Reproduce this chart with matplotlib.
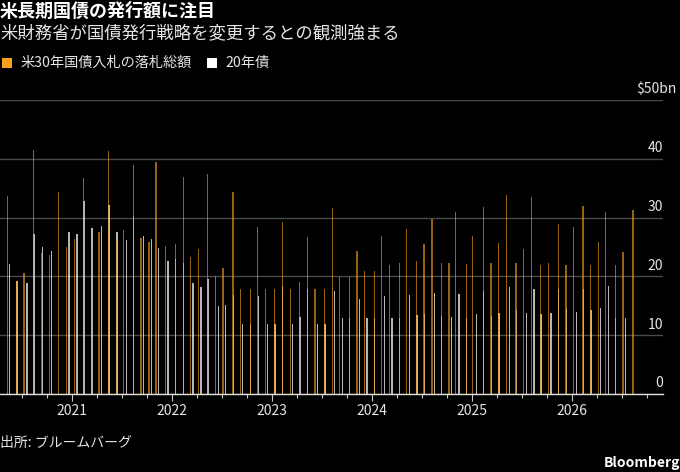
import matplotlib
matplotlib.use("Agg")
import matplotlib.pyplot as plt
import matplotlib.dates as mdates
from matplotlib.patches import Rectangle
import pandas as pd

plt.rcParams["font.family"] = ["Noto Sans CJK JP", "DejaVu Sans"]

# ---- data: auction dates and accepted totals ($bn) ----
bond30_dates = [
    "2020-05-08", "2020-06-12", "2020-07-09", "2020-08-13", "2020-09-12", "2020-10-10", "2020-11-13", "2020-12-11",
    "2021-01-08", "2021-02-12", "2021-03-13", "2021-04-09", "2021-05-14", "2021-06-11", "2021-07-08", "2021-08-13",
    "2021-09-09", "2021-10-08", "2021-11-03", "2021-12-08",
    "2022-01-13", "2022-02-10", "2022-03-10", "2022-04-07", "2022-05-11", "2022-06-08", "2022-07-06", "2022-08-11",
    "2022-09-08", "2022-10-13", "2022-11-10", "2022-12-08",
    "2023-01-11", "2023-02-08", "2023-03-08", "2023-04-12", "2023-05-10", "2023-06-07", "2023-07-12", "2023-08-09",
    "2023-09-05", "2023-10-11", "2023-11-07", "2023-12-05",
    "2024-01-10", "2024-02-06", "2024-03-05", "2024-04-10", "2024-05-07", "2024-06-12", "2024-07-09", "2024-08-07",
    "2024-09-11", "2024-10-08", "2024-10-31", "2024-12-10",
    "2025-01-01", "2025-02-11", "2025-03-11", "2025-04-08", "2025-05-06", "2025-06-10", "2025-07-08", "2025-08-05",
    "2025-09-08", "2025-10-06", "2025-11-11", "2025-12-10",
    "2026-01-06", "2026-02-10", "2026-03-10", "2026-04-07", "2026-05-04", "2026-06-08", "2026-07-06", "2026-08-11",
]
bond30_values = [
    33.6, 19.3, 20.6, 41.5, 23.9, 23.6, 34.4, 25.0,
    26.3, 36.8, 25.5, 27.6, 41.3, 26.2, 27.9, 39.0, 26.5, 25.8, 39.4, 25.2,
    25.5, 36.9, 23.3, 24.7, 37.4, 20.0, 21.4, 34.3, 17.9, 17.9, 28.4, 17.9,
    17.9, 29.2, 17.9, 19.1, 26.7, 17.9, 17.9, 31.6, 19.9, 19.9, 24.4, 20.9,
    20.9, 26.8, 22.0, 22.3, 28.1, 22.6, 25.5, 29.7, 22.2, 22.2, 31.0, 22.1,
    26.8, 31.8, 22.3, 25.6, 33.8, 22.3, 24.6, 33.5, 22.0, 22.3, 28.9, 22.0,
    28.4, 32.0, 22.0, 25.9, 30.9, 22.0, 24.2, 31.3,
]

bond20_dates = [
    "2020-05-18", "2020-06-13", "2020-07-20", "2020-08-14", "2020-09-14", "2020-10-18", "2020-12-20",
    "2021-01-18", "2021-02-13", "2021-03-14", "2021-04-18", "2021-05-15", "2021-06-13", "2021-07-18", "2021-08-14",
    "2021-09-18", "2021-10-17", "2021-11-13", "2021-12-17",
    "2022-01-14", "2022-02-11", "2022-03-18", "2022-04-16", "2022-05-12", "2022-06-18", "2022-07-15", "2022-08-12",
    "2022-09-16", "2022-10-14", "2022-11-11", "2022-12-16",
    "2023-01-12", "2023-02-09", "2023-03-17", "2023-04-13", "2023-05-11", "2023-06-16", "2023-07-13", "2023-08-17",
    "2023-09-15", "2023-10-12", "2023-11-16", "2023-12-14",
    "2024-01-11", "2024-02-16", "2024-03-14", "2024-04-11", "2024-05-16", "2024-06-13", "2024-07-10", "2024-08-15",
    "2024-09-12", "2024-10-18", "2024-11-14", "2024-12-11",
    "2025-01-18", "2025-02-12", "2025-03-12", "2025-04-09", "2025-05-16", "2025-06-11", "2025-07-18", "2025-08-15",
    "2025-09-09", "2025-10-16", "2025-11-12", "2025-12-11",
    "2026-01-16", "2026-02-11", "2026-03-11", "2026-04-16", "2026-05-13", "2026-06-09", "2026-07-16",
]
bond20_values = [
    22.1, 19.2, 18.9, 27.2, 25.0, 24.3, 27.6,
    27.2, 32.8, 28.2, 28.6, 32.2, 27.6, 26.2, 30.3, 26.9, 26.4, 24.8, 22.7,
    23.0, 22.2, 18.9, 18.2, 19.5, 15.0, 15.1, 16.9, 11.9, 11.9, 16.6, 11.9,
    11.9, 18.4, 11.9, 13.1, 17.8, 11.9, 11.9, 17.6, 12.9, 12.9, 16.1, 12.9,
    12.9, 16.6, 12.9, 13.0, 16.8, 13.4, 13.6, 17.2, 13.2, 13.1, 17.0, 13.0,
    13.6, 17.6, 13.3, 13.8, 18.2, 14.3, 13.8, 17.9, 13.6, 13.7, 17.8, 14.4,
    13.9, 17.9, 14.3, 14.6, 18.3, 13.0, 13.0,
]

y_ticks = [0, 10, 20, 30, 40, 50]
y_labels = ["0", "10", "20", "30", "40", "$50bn"]

ORANGE = "#F7A11A"
WHITE = "#FFFFFF"
BG = "#000000"
GRID = "#4a4a4a"
TXT = "#e6e6e6"

W, H = 680, 472
fig = plt.figure(figsize=(W / 100, H / 100), dpi=100, facecolor=BG)
ax = fig.add_axes([0, 1 - 394 / H, 663 / W, (394 - 100) / H])
ax.set_facecolor(BG)

d20 = pd.to_datetime(bond20_dates)
d30 = pd.to_datetime(bond30_dates)
bw = pd.Timedelta(days=4.5)
ax.bar(d20, bond20_values, width=bw, color=WHITE, alpha=0.72, linewidth=0, zorder=2)
ax.bar(d30, bond30_values, width=bw, color=ORANGE, alpha=0.62, linewidth=0, zorder=3)

ax.set_xlim(pd.Timestamp("2020-04-12"), pd.Timestamp("2026-11-29"))
ax.set_ylim(0, 50)
ax.set_yticks(y_ticks)
ax.yaxis.grid(True, color=GRID, linewidth=1.0)
ax.set_axisbelow(True)
ax.tick_params(axis="y", length=0, labelleft=False)

for s in ["top", "left", "right"]:
    ax.spines[s].set_visible(False)
ax.spines["bottom"].set_color("#e0e0e0")
ax.spines["bottom"].set_linewidth(1.0)
ax.spines["bottom"].set_zorder(5)

ax.xaxis.set_major_locator(mdates.YearLocator())
ax.xaxis.set_major_formatter(mdates.DateFormatter("%Y"))
ax.xaxis.set_minor_locator(mdates.MonthLocator(bymonth=[4, 7, 10]))
ax.tick_params(axis="x", which="major", length=5, width=0.8, color="#c8c8c8",
               labelcolor=TXT, labelsize=10, pad=2)
ax.tick_params(axis="x", which="minor", length=3, width=0.8, color="#c8c8c8")

# y labels sit above the gridlines on the right
for v, lab in zip(y_ticks, y_labels):
    xr = 1.0 if v != 50 else 677 / 663
    ax.text(xr, v + 0.6, lab, transform=ax.get_yaxis_transform(), ha="right",
            va="bottom", color=TXT, fontsize=10, clip_on=False)

# titles
fig.text(0, 1 - 11 / H, "米長期国債の発行額に注目", ha="left", va="center",
         color="white", fontsize=13, fontweight="bold")
fig.text(0, 1 - 33.5 / H, "米財務省が国債発行戦略を変更するとの観測強まる", ha="left",
         va="center", color=TXT, fontsize=12.5)

# legend
fig.patches.append(Rectangle((1.5 / W, 1 - 68 / H), 10 / W, 10 / H, transform=fig.transFigure,
                             facecolor=ORANGE, edgecolor="none"))
fig.text(20 / W, 1 - 63 / H, "米30年国債入札の落札総額", ha="left", va="center",
         color=TXT, fontsize=10.2)
fig.patches.append(Rectangle((207 / W, 1 - 68 / H), 10 / W, 10 / H, transform=fig.transFigure,
                             facecolor=WHITE, edgecolor="none"))
fig.text(225 / W, 1 - 63 / H, "20年債", ha="left", va="center", color=TXT, fontsize=10.2)

# footer
fig.text(0, 1 - 443 / H, "出所: ブルームバーグ", ha="left", va="center", color=TXT, fontsize=10)
fig.text(1.0, 1 - 463 / H, "Bloomberg", ha="right", va="center", color="white",
         fontsize=10, fontweight="bold")

fig.savefig("out.png", dpi=100, facecolor=BG)
